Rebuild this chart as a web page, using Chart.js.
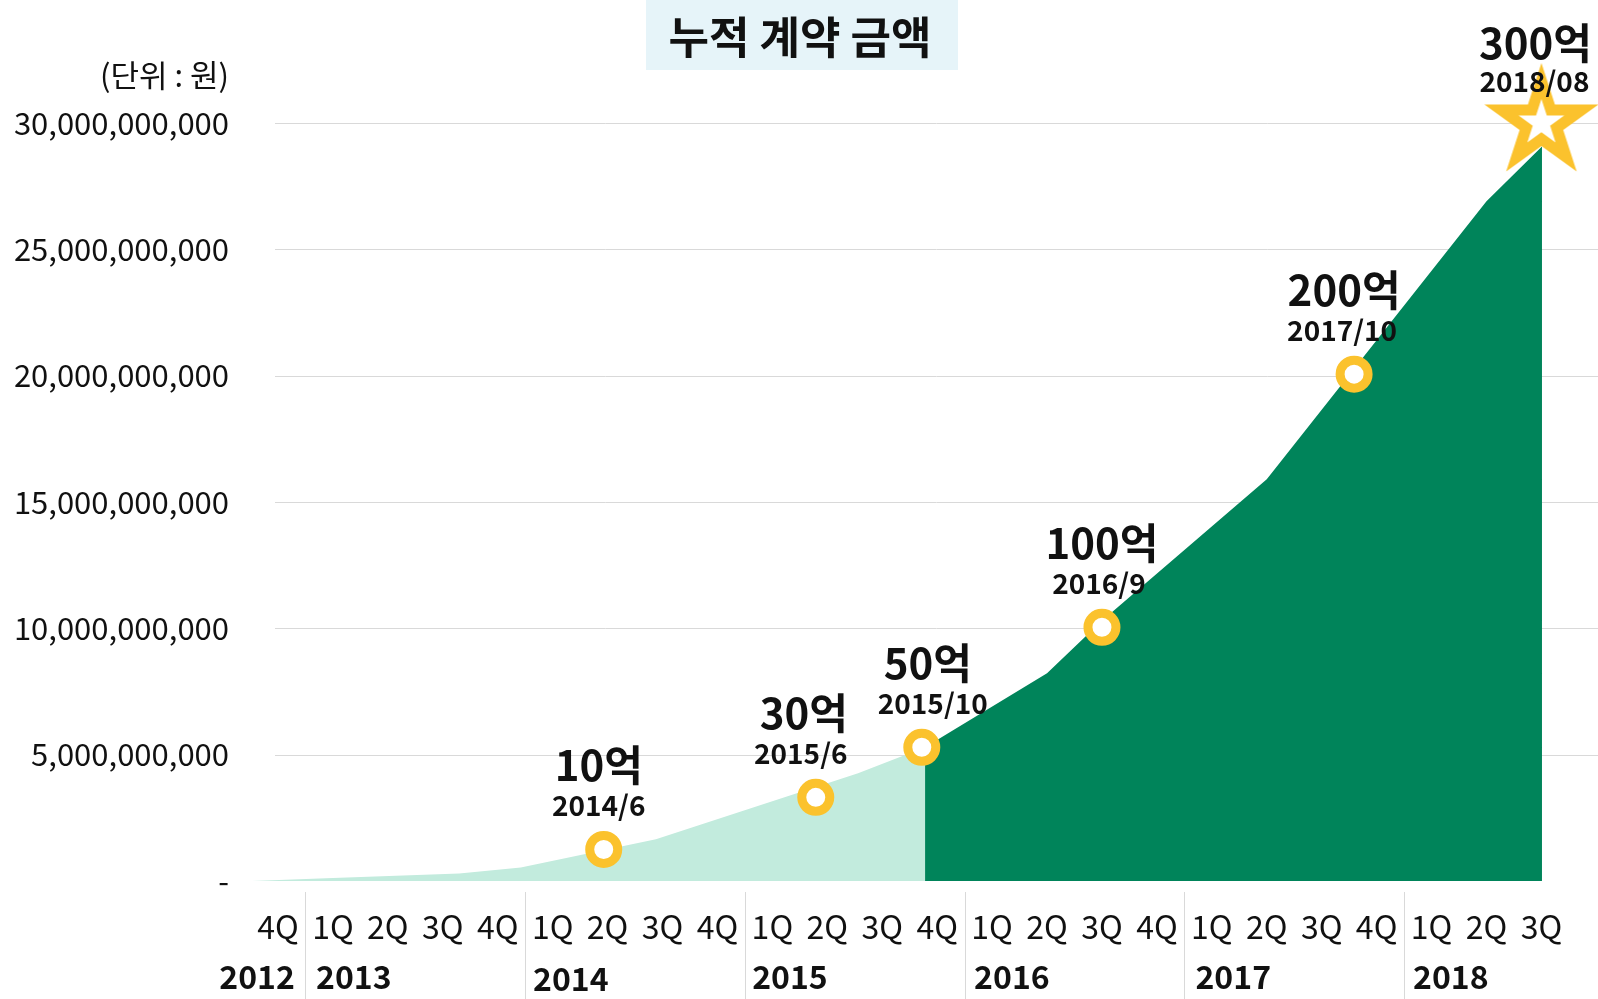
<!DOCTYPE html>
<html>
<head>
<meta charset="utf-8">
<script src="https://cdn.jsdelivr.net/npm/chart.js@4/dist/chart.umd.min.js"></script>
<style>
  html, body { margin: 0; padding: 0; background: #fff; }
  #wrap { width: 1598px; height: 999px; position: relative; }
</style>
</head>
<body>
<div id="wrap"><canvas id="chart" width="1598" height="999"></canvas></div>
<script>
// quarters on the x axis (index 0 = 4Q 2012)
const quarterLabels = ['4Q', '1Q', '2Q', '3Q', '4Q', '1Q', '2Q', '3Q', '4Q', '1Q', '2Q', '3Q', '4Q',
    '1Q', '2Q', '3Q', '4Q', '1Q', '2Q', '3Q', '4Q', '1Q', '2Q', '3Q'];
const yearLabels = ['2012', '2013', '2014', '2015', '2016', '2017', '2018'];

// cumulative amount (won) - light part up to 2015/10, dark part after
const earlyX = [-0.47, 1.0, 3.3, 4.42, 6.88, 10.56, 11.78];
const earlyY = [0, 120000000, 300000000, 530000000, 1650000000, 4260000000, 5290000000];
const laterX = [11.78, 14.0, 15.0, 18.0, 22.0, 23.01];
const laterY = [5290000000, 8220000000, 10300000000, 15900000000, 26900000000, 29070000000];

// milestones
const mileX = [5.93, 9.79, 11.72, 15.0, 19.59, 23.0];
const mileY = [1250000000, 3310000000, 5290000000, 10040000000, 20060000000, 30000000000];
const mileLabels = ['10억', '30억', '50억', '100억', '200억', '300억'];
const mileDates = ['2014/6', '2015/6', '2015/10', '2016/9', '2017/10', '2018/08'];

// layout bits (not data)
const yearPos = [-0.38, 1.38, 5.33, 9.32, 13.36, 17.39, 21.35];
const labelDx = [-5, -12, 6, 0, -10, -6];
const dateDx = [-5, -15, 11, -3, -12, -7];
const GRID_LEFT = 275;

const FONT = "'Noto Sans CJK KR', 'Noto Sans', sans-serif";
const YELLOW = '#FBC22D';
const GREEN = '#00845A';
const MINT = '#C2EBDD';
const TEXT = '#111111';

Chart.defaults.font.family = FONT;
Chart.defaults.color = TEXT;

function toPoints(xs, ys) {
    return xs.map((x, i) => ({ x: x, y: ys[i] }));
}

// star image used as the last milestone marker
function makeStar() {
    const c = document.createElement('canvas');
    const size = 126;
    c.width = size;
    c.height = size;
    const g = c.getContext('2d');
    const drawStar = (R, color) => {
        const r = R * 0.382;
        g.beginPath();
        for (let k = 0; k < 10; k++) {
            const rad = k % 2 === 0 ? R : r;
            const a = -Math.PI / 2 + k * Math.PI / 5;
            const px = size / 2 + rad * Math.cos(a);
            const py = size / 2 + rad * Math.sin(a);
            if (k === 0) g.moveTo(px, py); else g.lineTo(px, py);
        }
        g.closePath();
        g.fillStyle = color;
        g.fill();
    };
    drawStar(60, YELLOW);
    drawStar(24, '#ffffff');
    return c;
}
const starImg = makeStar();

const headerPlugin = {
    id: 'header',
    beforeDraw(chart) {
        const ctx = chart.ctx;
        ctx.save();
        ctx.fillStyle = '#E6F4F9';
        ctx.fillRect(646, 0, 312, 70);
        ctx.fillStyle = TEXT;
        ctx.font = 'bold 44px ' + FONT;
        ctx.textAlign = 'center';
        ctx.textBaseline = 'middle';
        ctx.fillText('누적 계약 금액', 800, 37);
        ctx.font = '31px ' + FONT;
        ctx.textAlign = 'right';
        ctx.fillText('(단위 : 원)', 229, 75);
        ctx.restore();
    }
};

// horizontal grid lines, starting a bit right of the plot's left edge
const gridPlugin = {
    id: 'hgrid',
    beforeDatasetsDraw(chart) {
        const ctx = chart.ctx;
        const ys = chart.scales.y;
        ctx.save();
        ctx.strokeStyle = '#d9d9d9';
        ctx.lineWidth = 1;
        ys.ticks.forEach(t => {
            if (t.value === 0) return;
            const py = Math.round(ys.getPixelForValue(t.value)) + 0.5;
            ctx.beginPath();
            ctx.moveTo(GRID_LEFT, py);
            ctx.lineTo(chart.chartArea.right, py);
            ctx.stroke();
        });
        ctx.restore();
    }
};

const yearPlugin = {
    id: 'years',
    afterDraw(chart) {
        const ctx = chart.ctx;
        const xs = chart.scales.x;
        ctx.save();
        // separators between year groups
        ctx.strokeStyle = '#d9d9d9';
        ctx.lineWidth = 1;
        [0.5, 4.5, 8.5, 12.5, 16.5, 20.5].forEach(v => {
            const px = Math.round(xs.getPixelForValue(v)) + 0.5;
            ctx.beginPath();
            ctx.moveTo(px, 892);
            ctx.lineTo(px, 999);
            ctx.stroke();
        });
        ctx.fillStyle = TEXT;
        ctx.font = 'bold 32px ' + FONT;
        ctx.textAlign = 'center';
        ctx.textBaseline = 'middle';
        yearLabels.forEach((y, i) => {
            ctx.fillText(y, xs.getPixelForValue(yearPos[i]), i === 2 ? 979 : 977);
        });
        ctx.restore();
    }
};

const milestonePlugin = {
    id: 'milestones',
    afterDatasetsDraw(chart) {
        const ctx = chart.ctx;
        const meta = chart.getDatasetMeta(0);
        ctx.save();
        ctx.fillStyle = TEXT;
        ctx.textAlign = 'center';
        ctx.textBaseline = 'middle';
        meta.data.forEach((pt, i) => {
            const big = i === 5 ? -80 : -84;
            const small = i === 5 ? -42 : -44;
            ctx.font = 'bold 42px ' + FONT;
            ctx.fillText(mileLabels[i], pt.x + labelDx[i], pt.y + big);
            ctx.font = 'bold 28px ' + FONT;
            ctx.fillText(mileDates[i], pt.x + dateDx[i], pt.y + small);
        });
        ctx.restore();
    }
};

const ctx = document.getElementById('chart').getContext('2d');
new Chart(ctx, {
    type: 'line',
    data: {
        datasets: [
            {
                label: 'milestones',
                data: toPoints(mileX, mileY),
                showLine: false,
                pointStyle: mileX.map((x, i) => i === mileX.length - 1 ? starImg : 'circle'),
                pointRadius: 14,
                pointBorderWidth: 9,
                pointBorderColor: YELLOW,
                pointBackgroundColor: '#ffffff',
                clip: false,
                order: 0
            },
            {
                label: 'later',
                data: toPoints(laterX, laterY),
                borderWidth: 0,
                pointRadius: 0,
                backgroundColor: GREEN,
                fill: 'origin',
                tension: 0,
                clip: false,
                order: 1
            },
            {
                label: 'early',
                data: toPoints(earlyX, earlyY),
                borderWidth: 0,
                pointRadius: 0,
                backgroundColor: MINT,
                fill: 'origin',
                tension: 0,
                clip: false,
                order: 2
            }
        ]
    },
    options: {
        responsive: false,
        animation: false,
        events: [],
        // markers overflow on purpose, don't let them shrink the plot
        layout: { autoPadding: false, padding: { top: 123, right: 0, left: 0, bottom: 0 } },
        plugins: {
            legend: { display: false },
            tooltip: { enabled: false }
        },
        scales: {
            x: {
                type: 'linear',
                min: -0.473,
                max: 24.03,
                afterBuildTicks: s => { s.ticks = quarterLabels.map((q, i) => ({ value: i })); },
                afterFit: s => { s.height = 118; s.paddingLeft = 0; s.paddingRight = 0; },
                // invisible tick marks push the labels down
                grid: {
                    drawOnChartArea: false,
                    drawTicks: true,
                    tickLength: 27,
                    tickColor: 'rgba(0,0,0,0)'
                },
                border: { display: false },
                ticks: {
                    autoSkip: false,
                    maxRotation: 0,
                    padding: 0,
                    font: { size: 32 },
                    callback: v => quarterLabels[v]
                }
            },
            y: {
                min: 0,
                max: 30000000000,
                afterFit: s => { s.width = 252; },
                grid: { display: false, drawTicks: false },
                border: { display: false },
                ticks: {
                    stepSize: 5000000000,
                    padding: 23,
                    font: { size: 31 },
                    callback: v => v === 0 ? '-' : v.toLocaleString('en-US')
                }
            }
        }
    },
    plugins: [headerPlugin, gridPlugin, yearPlugin, milestonePlugin]
});
</script>
</body>
</html>
